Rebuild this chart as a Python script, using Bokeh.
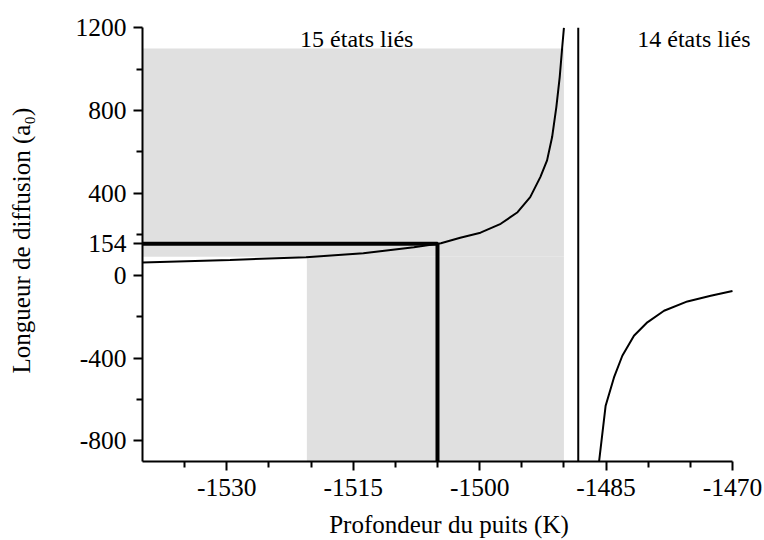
from bokeh.plotting import figure
from bokeh.models import Range1d, FixedTicker, Label
from bokeh.embed import file_html
from bokeh.resources import INLINE

# ---- data ----
x_ticks = [-1530, -1515, -1500, -1485, -1470]
x_minor = [-1535, -1525, -1520, -1510, -1505, -1495, -1490, -1480, -1475]
y_ticks = [-800, -400, 0, 154, 400, 800, 1200]
y_minor = [-600, -200, 200, 600, 1000]
x_lims = (-1540, -1470)
y_lims = (-900, 1200)

# shaded region (two rectangles)
shade_left = [-1540.5, -1520.5]
shade_right = [-1490.0, -1490.0]
shade_bottom = [92, -900]
shade_top = [1100, 92]

# branch below the resonance (15 bound states)
left_x = [-1540, -1529.6, -1520.6, -1513.8, -1507.8, -1504.6, -1502.3, -1499.9,
          -1497.5, -1495.5, -1494.0, -1492.8, -1492.0, -1491.4, -1490.9,
          -1490.5, -1490.2, -1490.0]
left_y = [64, 76, 89, 108, 137, 157, 183, 208, 251, 307, 380, 477, 558, 671,
          816, 961, 1107, 1200]

# vertical jump at the resonance
pole_x = [-1488.3, -1488.3]
pole_y = [1200, -900]

# branch above the resonance (14 bound states)
right_x = [-1485.9, -1485.05, -1484.06, -1483.07, -1481.69, -1480.1, -1478.12,
           -1475.35, -1472.58, -1470.0]
right_y = [-925, -630, -493, -388, -291, -226, -170, -125, -97, -74]

# marked depth / scattering length
mark_x = [-1540, -1505, -1505]
mark_y = [154, 154, -900]

FONT = "Liberation Serif"

p = figure(width=764, height=540, output_backend="svg", toolbar_location=None,
           x_range=Range1d(-1540, -1467.27), y_range=Range1d(-900, 1240.2),
           min_border_left=142, min_border_right=9, min_border_top=19,
           min_border_bottom=79)
p.outline_line_color = None
p.xgrid.visible = False
p.ygrid.visible = False
p.background_fill_color = "white"
p.border_fill_color = "white"

p.quad(left=shade_left, right=shade_right, bottom=shade_bottom, top=shade_top,
       fill_color="#e0e0e0", line_color=None)

p.line(left_x, left_y, line_color="black", line_width=2)
p.line(pole_x, pole_y, line_color="black", line_width=2)
p.line(right_x, right_y, line_color="black", line_width=2)
p.line(mark_x, mark_y, line_color="black", line_width=4)

for ax in (p.xaxis, p.yaxis):
    ax.axis_line_width = 2
    ax.axis_line_color = "black"
    ax.major_tick_line_width = 2
    ax.minor_tick_line_width = 2
    ax.major_tick_line_color = "black"
    ax.minor_tick_line_color = "black"
    ax.major_tick_in = 0
    ax.major_tick_out = 9
    ax.minor_tick_in = 0
    ax.minor_tick_out = 6
    ax.major_label_text_font = FONT
    ax.major_label_text_font_size = "25.5px"
    ax.major_label_text_color = "black"
    ax.axis_label_text_font = FONT
    ax.axis_label_text_font_size = "25px"
    ax.axis_label_text_font_style = "normal"
    ax.axis_label_text_color = "black"

p.xaxis.bounds = x_lims
p.yaxis.bounds = y_lims
p.xaxis.ticker = FixedTicker(ticks=x_ticks, minor_ticks=x_minor)
p.yaxis.ticker = FixedTicker(ticks=y_ticks, minor_ticks=y_minor)
p.xaxis.major_label_overrides = {t: str(t) for t in x_ticks}
p.yaxis.major_label_overrides = {t: str(t) for t in y_ticks}
p.xaxis.major_label_standoff = 8
p.yaxis.major_label_standoff = 7

p.xaxis.axis_label = "Profondeur du puits (K)"
p.xaxis.axis_label_standoff = 12
p.yaxis.axis_label = "Longueur de diffusion (a\u2080)"
p.yaxis.axis_label_standoff = 38

# region labels
p.add_layout(Label(x=-1521.3, y=1148, text="15 états liés", text_align="left",
                   text_baseline="alphabetic", text_font=FONT,
                   text_font_size="24px", text_color="black"))
p.add_layout(Label(x=-1481.3, y=1148, text="14 états liés", text_align="left",
                   text_baseline="alphabetic", text_font=FONT,
                   text_font_size="24px", text_color="black"))

open("out.html", "w").write(file_html(p, INLINE))
